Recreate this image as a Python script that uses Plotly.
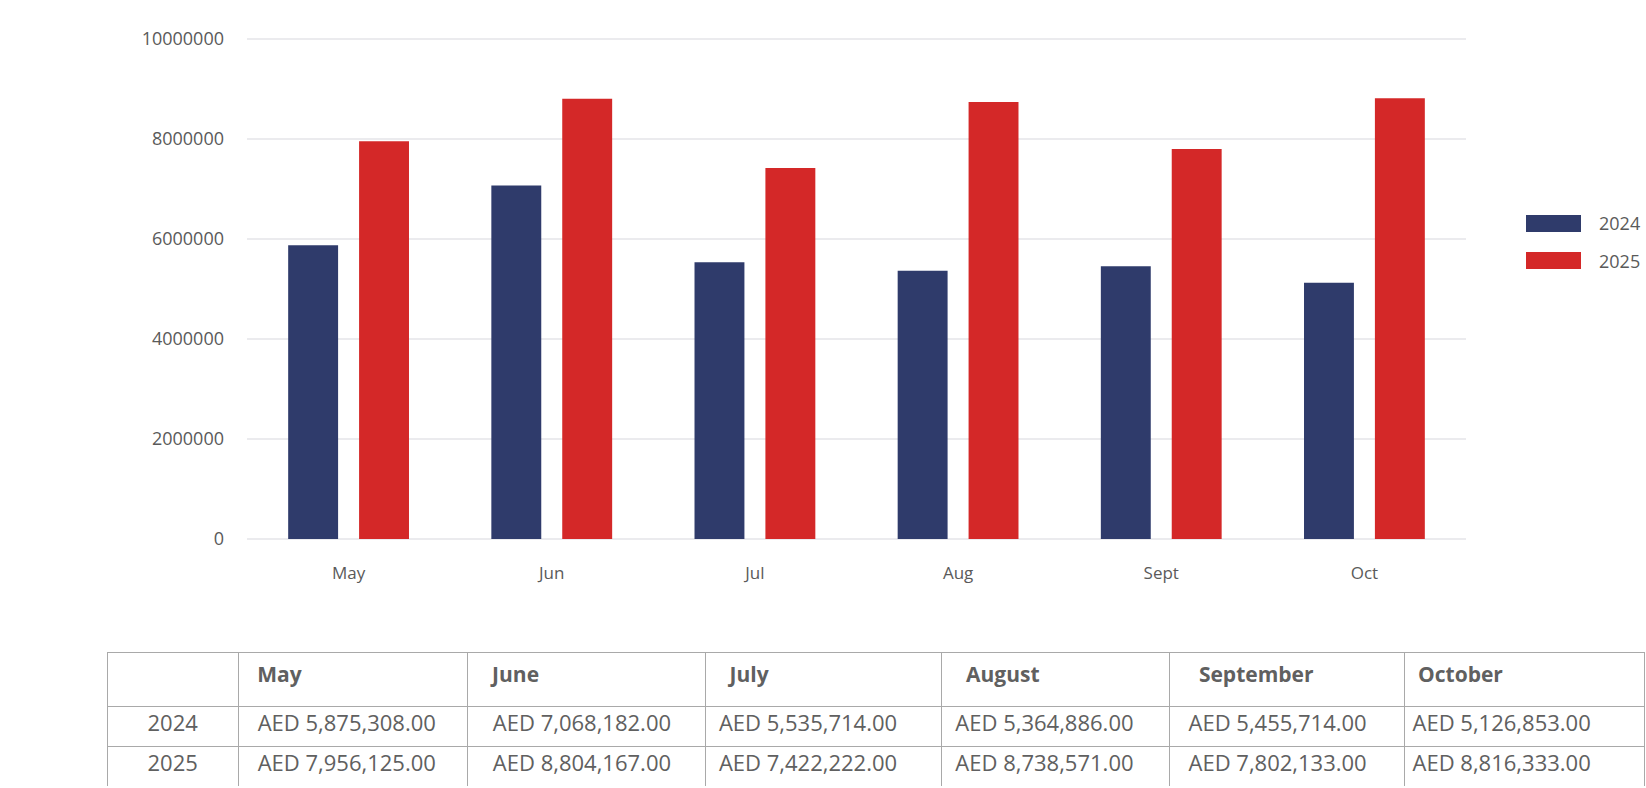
import plotly.graph_objects as go

# ---- data ----
months_short = ["May", "Jun", "Jul", "Aug", "Sept", "Oct"]
months_full = ["May", "June", "July", "August", "September", "October"]
series_names = ["2024", "2025"]
values_2024 = [5875308, 7068182, 5535714, 5364886, 5455714, 5126853]
values_2025 = [7956125, 8804167, 7422222, 8738571, 7802133, 8816333]
y_ticks = [0, 2000000, 4000000, 6000000, 8000000, 10000000]

# ---- styling ----
colors = ["#2f3b6b", "#d42828"]
W, H = 1646, 788
FONT = "Open Sans"
TXT = "#5a5a5a"
NB = "\u00a0"
header_pad = [2, 3, 3, 3, 4, 1]
cell_pad = [2, 3, 1, 1, 2, 0]


def px(x):
    return x / W


def py(y):
    return 1 - y / H


fig = go.Figure()
all_values = [values_2024, values_2025]
for name, vals, c in zip(series_names, all_values, colors):
    fig.add_trace(go.Bar(
        x=months_short, y=vals, name=name,
        marker=dict(color=c, line=dict(width=0)),
        showlegend=False,
    ))

# ---- table ----
def fmt(v):
    return f"AED {v:,.2f}"

header_vals = [""] + [NB * p + f"<b>{m}</b>" for m, p in zip(months_full, header_pad)]
cell_cols = [series_names] + [[NB * p + fmt(a), NB * p + fmt(b)]
                              for a, b, p in zip(values_2024, values_2025, cell_pad)]

fig.add_trace(go.Table(
    domain=dict(x=[px(107), px(1645)], y=[py(786), py(652)]),
    columnwidth=[131, 229, 237, 236, 227, 235, 240],
    header=dict(
        values=header_vals, height=54, align="left",
        fill_color="white", line=dict(color="#a9a9a9", width=1),
        font=dict(family=FONT, size=21, color="#606060"),
    ),
    cells=dict(
        values=cell_cols, height=40, align=["center"] + ["left"] * 6,
        fill_color="white", line=dict(color="#a9a9a9", width=1),
        font=dict(family=FONT, size=22, color="#606060"),
    ),
))

# ---- manual legend (wide swatches) ----
shapes = []
annotations = []
leg_y = [(215, 232), (252, 269)]
for name, c, (y0, y1) in zip(series_names, colors, leg_y):
    shapes.append(dict(type="rect", xref="paper", yref="paper",
                       x0=px(1526), x1=px(1581), y0=py(y1), y1=py(y0),
                       fillcolor=c, line=dict(width=0)))
    annotations.append(dict(xref="paper", yref="paper", x=px(1597), y=py((y0 + y1) / 2),
                            text=name, showarrow=False, xanchor="left", yanchor="middle",
                            font=dict(family=FONT, size=18, color=TXT)))

# y scale: 0 at y=539px, 10M at y=39px (50px per 1M); pad range so edge gridlines draw
y_lo, y_hi = -100000, 10100000
dom_bottom = 539 + (0 - y_lo) * 50e-6
dom_top = 539 - y_hi * 50e-6

fig.update_layout(
    width=W, height=H, autosize=False,
    margin=dict(l=0, r=0, t=0, b=0, pad=0),
    paper_bgcolor="white", plot_bgcolor="white",
    barmode="group", bargap=0.302, bargroupgap=0.296,
    font=dict(family=FONT, color=TXT),
    shapes=shapes, annotations=annotations,
    showlegend=False,
    xaxis=dict(
        domain=[px(247), px(1466)], automargin=False,
        showline=False, showgrid=False, zeroline=False, ticks="",
        tickfont=dict(family=FONT, size=17, color=TXT),
        ticklabelstandoff=17,
    ),
    yaxis=dict(
        domain=[py(dom_bottom), py(dom_top)], automargin=False,
        range=[y_lo, y_hi], tickvals=y_ticks, tickformat="d",
        showline=False, zeroline=False, ticks="",
        showgrid=True, gridcolor="#ebebee", gridwidth=2,
        tickfont=dict(family=FONT, size=18, color=TXT),
        ticklabelstandoff=22,
    ),
)

fig.write_html("out.html", config={"displayModeBar": False},
               post_script="document.body.style.margin='0px';")
